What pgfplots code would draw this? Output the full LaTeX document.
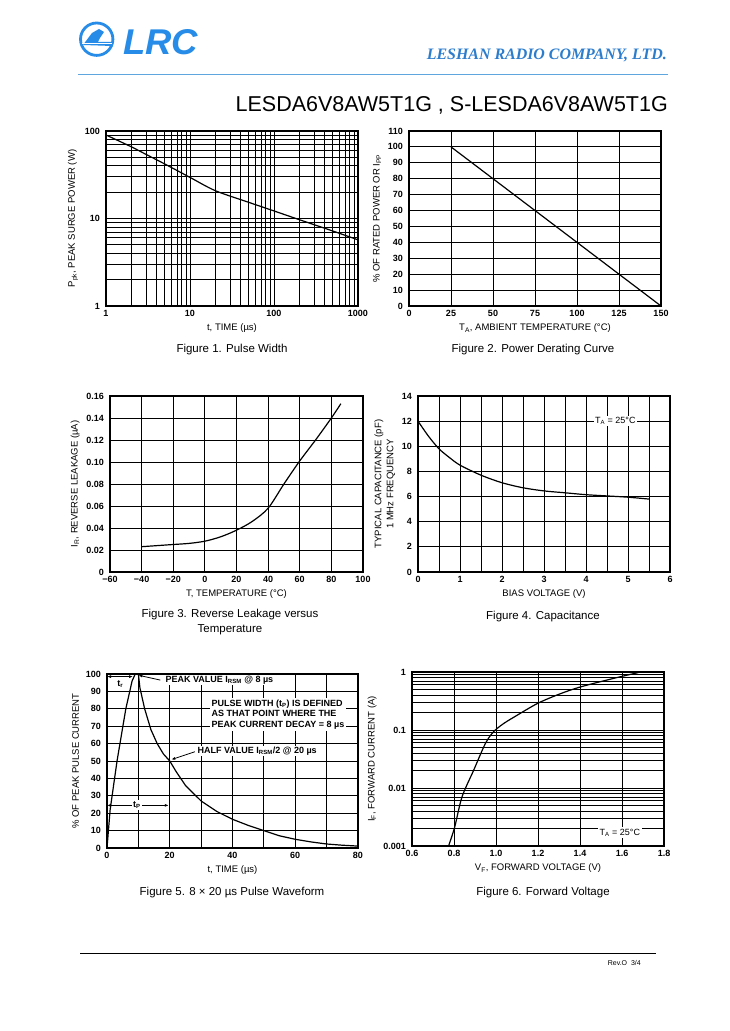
\documentclass[border=0pt]{standalone}
\usepackage{fontspec}
\setmainfont{Liberation Sans}
\newfontfamily\serifbi{Liberation Serif}
\usepackage{graphicx}
\usepackage{pgfplots}
\pgfplotsset{compat=1.18}
\usetikzlibrary{arrows.meta}
\definecolor{lrcblue}{RGB}{38,140,232}
\definecolor{cotext}{RGB}{45,125,205}
\definecolor{hline}{RGB}{95,165,222}
\pgfplotsset{
  ds/.style={
    scale only axis, width=252pt, height=175pt,
    axis line style={line width=1.3pt},
    major grid style={line width=0.85pt, black},
    minor grid style={line width=0.85pt, black},
    tick style={draw=none},
    tick label style={font=\fontsize{9}{9}\selectfont\bfseries},
    yticklabel style={xshift=-2.5pt},
    xticklabel style={yshift=-1pt},
    label style={font=\fontsize{9.5}{10.5}\selectfont},
    /pgf/number format/assume math mode=true,
    cycle list={{black, mark=none, line width=1.2pt}},
    every axis plot/.append style={black, line width=1.2pt, mark=none},
  }
}
\begin{document}
\begin{tikzpicture}
\path[use as bounding box, fill=white] (0pt,0pt) rectangle (730pt,1031pt);

% ---------- header ----------
\draw[lrcblue, line width=2.8pt] (96.7pt,991.8pt) circle (16.2pt);
\fill[lrcblue] (83pt,986pt) -- (92pt,998pt) -- (99pt,1002pt) -- (104pt,999pt) -- (100pt,993pt) -- (98pt,989pt) -- (111pt,989pt) -- (112pt,985pt) -- cycle;
\draw[white, line width=1pt] (82pt,987.5pt) -- (112pt,987.5pt);
\node[anchor=base west, text=lrcblue, inner sep=0pt] at (123pt,976pt)
  {\resizebox{75pt}{25pt}{\fontsize{35}{35}\selectfont\bfseries\itshape LRC}};
\node[anchor=base east, text=cotext, inner sep=0pt] at (667pt,971pt)
  {\resizebox{240pt}{!}{\serifbi\fontsize{14}{14}\selectfont\bfseries\itshape LESHAN RADIO COMPANY, LTD.}};
\draw[hline, line width=1.5pt] (78pt,956.5pt) -- (668pt,956.5pt);
\node[anchor=base east, inner sep=0pt] at (668pt,919pt)
  {\fontsize{21.5}{22}\selectfont LESDA6V8AW5T1G , S-LESDA6V8AW5T1G};

% ---------- footer ----------
\draw[black, line width=1pt] (80pt,77pt) -- (656pt,77pt);
\node[anchor=base east, inner sep=0pt] at (641pt,65pt) {\fontsize{7}{7}\selectfont Rev.O\ \ 3/4};

% ---------- Figure 1 ----------
\begin{axis}[ds, at={(106pt,725pt)}, anchor=south west,
  xmode=log, ymode=log, xmin=1, xmax=1000, ymin=1, ymax=100,
  xtick={1,10,100,1000}, xticklabels={1,10,100,1000},
  ytick={1,10,100}, yticklabels={1,10,100},
  grid=both,
  xlabel={t, TIME (µs)}, ylabel={P\textsubscript{pk}, PEAK SURGE POWER (W)}]
\addplot[smooth] coordinates {(1,90)(2,66)(3,54)(5,42)(10,29.5)(20,20.8)(50,15.3)(100,12.2)(200,9.7)(500,7.2)(1000,5.7)};
\end{axis}
\node[font=\fontsize{11.5}{13}\selectfont] at (232pt,681pt) {Figure 1. Pulse Width};

% ---------- Figure 2 ----------
\begin{axis}[ds, at={(409pt,725pt)}, anchor=south west,
  xmin=0, xmax=150, ymin=0, ymax=110,
  xtick={0,25,...,150}, ytick={0,10,...,110},
  grid=major,
  xlabel={T\textsubscript{A}, AMBIENT TEMPERATURE (°C)}, ylabel={\% OF RATED POWER OR I\textsubscript{PP}}]
\addplot coordinates {(25,100)(150,0)};
\end{axis}
\node[font=\fontsize{11.5}{13}\selectfont] at (533pt,681pt) {Figure 2. Power Derating Curve};

% ---------- Figure 3 ----------
\begin{axis}[ds, at={(110pt,459pt)}, anchor=south west, width=253pt, height=176pt,
  xmin=-60, xmax=100, ymin=0, ymax=0.16,
  xtick={-60,-40,...,100}, xticklabels={−60,−40,−20,0,20,40,60,80,100},
  ytick={0,0.02,...,0.161}, yticklabels={0,0.02,0.04,0.06,0.08,0.10,0.12,0.14,0.16},
  grid=major,
  xlabel={T, TEMPERATURE (°C)}, ylabel={I\textsubscript{R}, REVERSE LEAKAGE (µA)}]
\addplot[smooth] coordinates {(-40,0.023)(-30,0.024)(-20,0.025)(-10,0.026)(0,0.028)(10,0.032)(20,0.038)(30,0.046)(40,0.058)(50,0.080)(60,0.101)(70,0.120)(80,0.140)(86,0.153)};
\end{axis}
\node[font=\fontsize{11.5}{14.5}\selectfont, align=center] at (230pt,409pt) {Figure 3. Reverse Leakage versus\\Temperature};

% ---------- Figure 4 ----------
\begin{axis}[ds, at={(418pt,459pt)}, anchor=south west, height=176pt,
  xmin=0, xmax=6, ymin=0, ymax=14,
  xtick={0,...,6}, ytick={0,2,...,14}, minor x tick num=1,
  grid=both,
  xlabel={BIAS VOLTAGE (V)},
  ylabel={TYPICAL CAPACITANCE (pF)\\1 MHz FREQUENCY},
  ylabel style={align=center, font=\fontsize{9.5}{12}\selectfont}]
\addplot[smooth] coordinates {(0,12)(0.25,10.8)(0.5,9.8)(0.75,9.1)(1,8.5)(1.5,7.7)(2,7.1)(2.5,6.7)(3,6.45)(3.5,6.3)(4,6.15)(4.5,6.05)(5,5.95)(5.5,5.8)};
\node[fill=white, inner sep=1.5pt, font=\fontsize{9}{10}\selectfont] at (axis cs:4.7,12) {T\textsubscript{A} = 25°C};
\end{axis}
\node[font=\fontsize{11.5}{13}\selectfont] at (543pt,414pt) {Figure 4. Capacitance};

% ---------- Figure 5 ----------
\begin{axis}[ds, at={(107pt,183pt)}, anchor=south west, width=251pt, height=174pt,
  xmin=0, xmax=80, ymin=0, ymax=100,
  xtick={0,20,...,80}, ytick={0,10,...,100}, minor x tick num=1,
  grid=both,
  xlabel={t, TIME (µs)}, ylabel={\% OF PEAK PULSE CURRENT}]
\addplot coordinates {(0,0)(1,22)(3.2,50)(6,80)(8,96)(9,100)(10,100)(10.5,92)(12,80)(14,68)(16,60)(18,54)(20,50)(22,44)(25,36)(30,27)(35,21)(40,16.5)(45,13)(50,10)(55,7)(60,5)(65,3.5)(70,2.3)(75,1.6)(80,1.1)};
\draw[{Latex[length=4pt]}-{Latex[length=4pt]}, line width=0.8pt] (axis cs:0,98.5) -- (axis cs:8.3,98.5);
\node[font=\fontsize{9}{10}\selectfont\bfseries] at (axis cs:4.2,94) {t\textsubscript{r}};
\draw[-{Latex[length=4pt]}, line width=0.8pt] (axis cs:17,96.5) -- (axis cs:10,99.3);
\node[anchor=west, fill=white, inner sep=1pt, font=\fontsize{9}{10}\selectfont\bfseries] at (axis cs:18.3,96.5) {PEAK VALUE I\textsubscript{RSM} @ 8 µs};
\node[fill=white, inner sep=1.5pt, align=left, font=\fontsize{9}{10.5}\selectfont\bfseries] at (axis cs:54.5,76.7)
  {PULSE WIDTH (t\textsubscript{P}) IS DEFINED\\AS THAT POINT WHERE THE\\PEAK CURRENT DECAY = 8 µs};
\draw[-{Latex[length=4pt]}, line width=0.8pt] (axis cs:28,55.3) -- (axis cs:20.5,50.8);
\node[anchor=west, fill=white, inner sep=1pt, font=\fontsize{9}{10}\selectfont\bfseries] at (axis cs:28.5,55.6) {HALF VALUE I\textsubscript{RSM}/2 @ 20 µs};
\draw[{Latex[length=4pt]}-{Latex[length=4pt]}, line width=0.8pt] (axis cs:0,24.5) -- (axis cs:19.7,24.5);
\node[fill=white, inner sep=1.5pt, font=\fontsize{9}{10}\selectfont\bfseries] at (axis cs:9.5,24.5) {t\textsubscript{P}};
\end{axis}
\node[font=\fontsize{11.5}{13}\selectfont] at (232pt,138pt) {Figure 5. 8 × 20 µs Pulse Waveform};

% ---------- Figure 6 ----------
\begin{axis}[ds, at={(412pt,185pt)}, anchor=south west, height=174pt,
  xmin=0.6, xmax=1.8, ymode=log, ymin=0.001, ymax=1,
  xtick={0.6,0.8,...,1.81}, xticklabels={0.6,0.8,1.0,1.2,1.4,1.6,1.8},
  ytick={0.001,0.01,0.1,1}, yticklabels={0.001,0.01,0.1,1},
  grid=both,
  xlabel={V\textsubscript{F}, FORWARD VOLTAGE (V)}, ylabel={I\textsubscript{F}, FORWARD CURRENT (A)}]
\addplot[smooth] coordinates {(0.774,0.001)(0.803,0.0021)(0.838,0.007)(0.893,0.020)(0.949,0.058)(0.988,0.093)(1.036,0.129)(1.10,0.179)(1.20,0.29)(1.305,0.42)(1.40,0.55)(1.543,0.75)(1.678,0.98)};
\node[fill=white, inner sep=1.5pt, font=\fontsize{9}{10}\selectfont] at (axis cs:1.59,0.0017) {T\textsubscript{A} = 25°C};
\end{axis}
\node[font=\fontsize{11.5}{13}\selectfont] at (543pt,138pt) {Figure 6. Forward Voltage};
\end{tikzpicture}
\end{document}
